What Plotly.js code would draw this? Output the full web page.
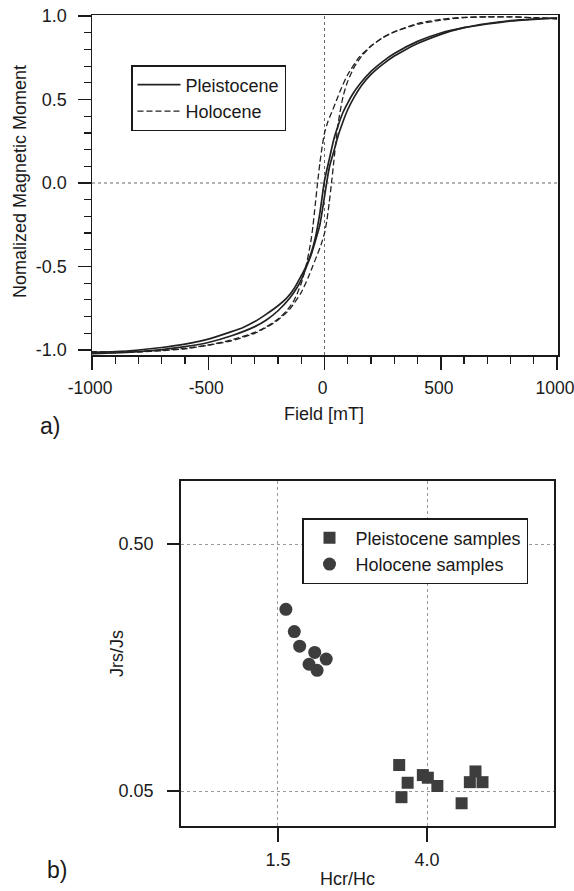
<!DOCTYPE html>
<html>
<head>
<meta charset="utf-8">
<script src="https://cdn.plot.ly/plotly-3.0.1.min.js"></script>
<style>html,body{margin:0;padding:0;background:#fff;}#chart{width:574px;height:891px;}</style>
</head>
<body>
<div id="chart"></div>
<script>
// ---- Panel a) hysteresis loops (Field [mT] vs normalized moment) ----
const pleistoceneDescField = [1000, 900, 800, 700, 600, 500, 400, 300, 250, 200, 150, 120, 100, 80, 60, 40, 20, 0, -20, -40, -60, -80, -100, -130, -160, -200, -250, -300, -350, -400, -500, -600, -700, -800, -900, -1000];
const pleistoceneDescMoment = [0.988, 0.980, 0.970, 0.952, 0.930, 0.898, 0.848, 0.775, 0.727, 0.668, 0.590, 0.530, 0.480, 0.425, 0.350, 0.262, 0.140, 0.015, -0.18, -0.33, -0.43, -0.50, -0.555, -0.63, -0.685, -0.735, -0.785, -0.83, -0.865, -0.89, -0.935, -0.965, -0.985, -1.0, -1.01, -1.015];
const pleistoceneAscField = [-1000, -900, -800, -700, -600, -500, -400, -300, -250, -200, -150, -120, -100, -80, -60, -40, -20, 0, 20, 40, 60, 80, 100, 130, 160, 200, 250, 300, 350, 400, 500, 600, 700, 800, 900, 1000];
const pleistoceneAscMoment = [-1.022, -1.018, -1.01, -0.998, -0.98, -0.955, -0.915, -0.86, -0.82, -0.765, -0.69, -0.63, -0.58, -0.51, -0.44, -0.35, -0.25, -0.08, 0.09, 0.19, 0.29, 0.37, 0.44, 0.52, 0.585, 0.65, 0.71, 0.76, 0.80, 0.835, 0.89, 0.93, 0.955, 0.972, 0.982, 0.988];

const holoceneDescField = [1000, 900, 800, 700, 600, 500, 400, 300, 250, 200, 150, 100, 70, 50, 30, 15, 0, -10, -20, -30, -40, -50, -60, -80, -100, -130, -160, -200, -250, -300, -400, -500, -600, -700, -800, -900, -1000];
const holoceneDescMoment = [0.985, 0.99, 0.995, 0.995, 0.992, 0.98, 0.955, 0.905, 0.87, 0.82, 0.755, 0.65, 0.56, 0.49, 0.42, 0.37, 0.30, 0.22, 0.12, 0.0, -0.13, -0.26, -0.36, -0.50, -0.60, -0.70, -0.76, -0.815, -0.86, -0.895, -0.94, -0.97, -0.99, -1.002, -1.008, -1.012, -1.01];
const holoceneAscField = [-1000, -900, -800, -700, -600, -500, -400, -300, -250, -200, -150, -100, -70, -50, -30, -15, 0, 10, 20, 30, 40, 50, 60, 80, 100, 130, 160, 200, 250, 300, 400, 500, 600, 700, 800, 900, 1000];
const holoceneAscMoment = [-1.012, -1.015, -1.012, -1.005, -0.993, -0.972, -0.945, -0.9, -0.865, -0.82, -0.757, -0.655, -0.565, -0.495, -0.425, -0.37, -0.30, -0.225, -0.12, 0.0, 0.13, 0.26, 0.37, 0.52, 0.61, 0.70, 0.76, 0.82, 0.87, 0.905, 0.95, 0.975, 0.99, 0.995, 0.995, 0.99, 0.982];

const fieldTickVals = [-1000, -500, 0, 500, 1000];
const fieldTickText = ["-1000", "-500", "0", "500", "1000"];
const momentTickVals = [-1.0, -0.5, 0.0, 0.5, 1.0];
const momentTickText = ["-1.0", "-0.5", "0.0", "0.5", "1.0"];

// ---- Panel b) Day plot (Hcr/Hc vs Jrs/Js) ----
const pleistoceneHcrHc = [3.33, 3.52, 3.38, 3.89, 4.02, 4.28, 5.02, 5.50, 5.30, 5.76];
const pleistoceneJrsJs = [0.0637, 0.0540, 0.0472, 0.0580, 0.0566, 0.0524, 0.0446, 0.0600, 0.0543, 0.0543];
const holoceneHcrHc = [1.58, 1.67, 1.73, 1.91, 2.06, 1.84, 1.94];
const holoceneJrsJs = [0.272, 0.221, 0.193, 0.182, 0.171, 0.163, 0.154];

const dayTickValsX = [1.5, 4.0];
const dayTickTextX = ["1.5", "4.0"];
const dayTickValsY = [0.05, 0.5];
const dayTickTextY = ["0.05", "0.50"];

const FONT = "Liberation Sans, Arial, Helvetica, sans-serif";
const INK = "#1a1a1a";
const W = 574, H = 891;
const px = v => v / W;
const py = v => 1 - v / H;

const traces = [
  {x: pleistoceneDescField, y: pleistoceneDescMoment, mode: "lines", name: "Pleistocene",
   legendgroup: "p", line: {color: "#222", width: 1.7, shape: "spline", smoothing: 0.6}, xaxis: "x", yaxis: "y"},
  {x: pleistoceneAscField, y: pleistoceneAscMoment, mode: "lines", name: "Pleistocene", showlegend: false,
   legendgroup: "p", line: {color: "#222", width: 1.7, shape: "spline", smoothing: 0.6}, xaxis: "x", yaxis: "y"},
  {x: holoceneDescField, y: holoceneDescMoment, mode: "lines", name: "Holocene",
   legendgroup: "h", line: {color: "#222", width: 1.3, dash: "6px,3px", shape: "spline", smoothing: 0.6}, xaxis: "x", yaxis: "y"},
  {x: holoceneAscField, y: holoceneAscMoment, mode: "lines", name: "Holocene", showlegend: false,
   legendgroup: "h", line: {color: "#222", width: 1.3, dash: "6px,3px", shape: "spline", smoothing: 0.6}, xaxis: "x", yaxis: "y"},
  {x: pleistoceneHcrHc, y: pleistoceneJrsJs, mode: "markers", name: "Pleistocene samples", legend: "legend2",
   marker: {symbol: "square", size: 12, color: "#3d3d3d"}, xaxis: "x2", yaxis: "y2"},
  {x: holoceneHcrHc, y: holoceneJrsJs, mode: "markers", name: "Holocene samples", legend: "legend2",
   marker: {symbol: "circle", size: 13, color: "#3d3d3d"}, xaxis: "x2", yaxis: "y2"}
];

const tickfont = {family: FONT, size: 18, color: INK};

const layout = {
  width: W, height: H,
  margin: {l: 0, r: 0, t: 0, b: 0},
  paper_bgcolor: "#fff", plot_bgcolor: "#fff",
  font: {family: FONT, size: 18, color: INK},
  xaxis: {
    domain: [px(92), px(558)], anchor: "y", range: [-1000, 1004],
    tickmode: "array", tickvals: fieldTickVals, ticktext: fieldTickText,
    ticks: "outside", ticklen: 13, tickwidth: 1.5, tickcolor: INK, ticklabelstandoff: 3,
    ticklabelshift: -2, ticklabeloverflow: "allow",
    minor: {tickmode: "linear", tick0: 0, dtick: 100, ticks: "outside", ticklen: 7, tickwidth: 1.2, tickcolor: INK, showgrid: false},
    showline: true, linecolor: INK, linewidth: 1.5, mirror: true,
    showgrid: false, zeroline: false, tickfont: {family: FONT, size: 17.5, color: INK}
  },
  yaxis: {
    domain: [py(355), py(15)], anchor: "x", range: [-1.030, 1.006],
    tickmode: "array", tickvals: momentTickVals, ticktext: momentTickText,
    ticks: "outside", ticklen: 13, tickwidth: 1.5, tickcolor: INK, ticklabelstandoff: 7,
    minor: {tickmode: "linear", tick0: 0, dtick: 0.1, ticks: "outside", ticklen: 7, tickwidth: 1.2, tickcolor: INK, showgrid: false},
    showline: true, linecolor: INK, linewidth: 1.5, mirror: true,
    showgrid: false, zeroline: false, tickfont: tickfont
  },
  xaxis2: {
    domain: [px(181), px(554)], anchor: "y2", type: "log", range: [-0.101, 0.9647],
    tickmode: "array", tickvals: dayTickValsX, ticktext: dayTickTextX,
    ticks: "outside", ticklen: 14, tickwidth: 2, tickcolor: INK, ticklabelstandoff: 3,
    showline: true, linecolor: INK, linewidth: 1.8, mirror: true,
    showgrid: true, gridcolor: "#9a9a9a", gridwidth: 1, griddash: "dot",
    zeroline: false, tickfont: tickfont
  },
  yaxis2: {
    domain: [py(826), py(481)], anchor: "x2", type: "log", range: [-1.4427, -0.0459],
    tickmode: "array", tickvals: dayTickValsY, ticktext: dayTickTextY,
    ticks: "outside", ticklen: 12, tickwidth: 2, tickcolor: INK, ticklabelstandoff: 10,
    showline: true, linecolor: INK, linewidth: 1.8, mirror: true,
    showgrid: true, gridcolor: "#9a9a9a", gridwidth: 1, griddash: "dot",
    zeroline: false, tickfont: tickfont
  },
  legend: {
    x: px(131), y: py(65), xanchor: "left", yanchor: "top",
    bgcolor: "#fff", bordercolor: INK, borderwidth: 1.5,
    font: {family: FONT, size: 18, color: INK}, itemwidth: 43, tracegroupgap: 0
  },
  legend2: {
    x: px(302), y: py(518), xanchor: "left", yanchor: "top",
    bgcolor: "#fff", bordercolor: INK, borderwidth: 1.5,
    font: {family: FONT, size: 18, color: INK}, itemwidth: 42, tracegroupgap: 0
  },
  shapes: [
    {type: "line", xref: "x", yref: "y domain", x0: 0, x1: 0, y0: 0, y1: 1, layer: "below",
     line: {color: "#666", width: 1, dash: "dot"}},
    {type: "line", xref: "x domain", yref: "y", x0: 0, x1: 1, y0: 0, y1: 0, layer: "below",
     line: {color: "#666", width: 1, dash: "dot"}}
  ],
  annotations: [
    {text: "Nomalized Magnetic Moment", xref: "paper", yref: "paper", x: px(20), y: py(182), textangle: -90,
     xanchor: "center", yanchor: "middle", showarrow: false, font: {family: FONT, size: 18, color: INK}},
    {text: "Field [mT]", xref: "paper", yref: "paper", x: px(324), y: py(414),
     xanchor: "center", yanchor: "middle", showarrow: false, font: {family: FONT, size: 18, color: INK}},
    {text: "a)", xref: "paper", yref: "paper", x: px(50), y: py(426),
     xanchor: "center", yanchor: "middle", showarrow: false, font: {family: FONT, size: 23, color: INK}},
    {text: "Jrs/Js", xref: "paper", yref: "paper", x: px(117), y: py(654), textangle: -90,
     xanchor: "center", yanchor: "middle", showarrow: false, font: {family: FONT, size: 18, color: INK}},
    {text: "Hcr/Hc", xref: "paper", yref: "paper", x: px(347), y: 0,
     xanchor: "center", yanchor: "bottom", showarrow: false, font: {family: FONT, size: 18, color: INK}},
    {text: "b)", xref: "paper", yref: "paper", x: px(57), y: py(870),
     xanchor: "center", yanchor: "middle", showarrow: false, font: {family: FONT, size: 23, color: INK}}
  ]
};

Plotly.newPlot("chart", traces, layout, {displayModeBar: false, staticPlot: true});
</script>
</body>
</html>
